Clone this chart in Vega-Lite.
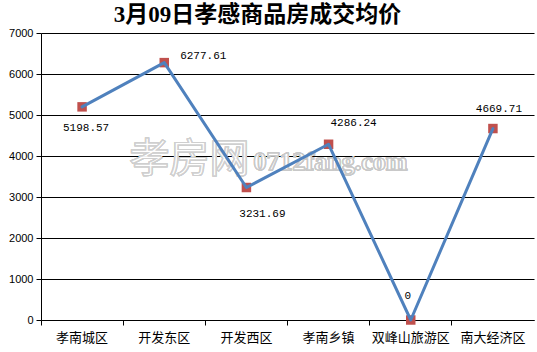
{
  "$schema": "https://vega.github.io/schema/vega-lite/v6.json",
  "width": 493,
  "height": 287,
  "autosize": {"type": "none"},
  "padding": {"left": 41, "top": 33, "right": 3, "bottom": 32},
  "background": "white",
  "title": {
    "text": "3月09日孝感商品房成交均价",
    "font": "Liberation Serif, Noto Sans CJK SC",
    "fontSize": 23,
    "fontWeight": "bold",
    "color": "#000000",
    "anchor": "middle",
    "dx": -30,
    "offset": 0
  },
  "data": {
    "values": [
      {"区域": "孝南城区", "均价": 5198.57},
      {"区域": "开发东区", "均价": 6277.61},
      {"区域": "开发西区", "均价": 3231.69},
      {"区域": "孝南乡镇", "均价": 4286.24},
      {"区域": "双峰山旅游区", "均价": 0},
      {"区域": "南大经济区", "均价": 4669.71}
    ]
  },
  "encoding": {
    "x": {
      "field": "区域",
      "type": "nominal",
      "sort": null,
      "scale": {"type": "band", "paddingInner": 0, "paddingOuter": 0, "domain": ["孝南城区", "开发东区", "开发西区", "孝南乡镇", "双峰山旅游区", "南大经济区"]},
      "axis": {
        "title": null,
        "labelAngle": 0,
        "bandPosition": 0,
        "domainColor": "#000000",
        "tickColor": "#000000",
        "tickSize": 5,
        "labelFont": "Noto Sans CJK SC",
        "labelFontSize": 13,
        "labelColor": "#000000",
        "labelPadding": 6,
        "grid": false
      }
    },
    "y": {
      "field": "均价",
      "type": "quantitative",
      "scale": {"domain": [0, 7000], "nice": false},
      "axis": {
        "title": null,
        "values": [0, 1000, 2000, 3000, 4000, 5000, 6000, 7000],
        "format": "d",
        "domainColor": "#000000",
        "tickColor": "#000000",
        "tickSize": 5,
        "gridColor": "#000000",
        "gridOpacity": 1,
        "labelFont": "Liberation Sans",
        "labelFontSize": 11,
        "labelColor": "#000000",
        "labelPadding": 3
      }
    }
  },
  "layer": [
    {
      "mark": {"type": "text", "text": "孝房网", "font": "Noto Sans CJK SC", "fontSize": 40, "fill": "#ffffff", "fillOpacity": 0.4, "stroke": "#cfcfcf", "strokeWidth": 1, "dx": -57, "baseline": "middle", "align": "center"},
      "encoding": {"x": {"datum": "开发西区"}, "y": {"datum": 3902}}
    },
    {
      "mark": {"type": "text", "text": "0712fang.com", "font": "Liberation Serif", "fontWeight": "bold", "fontSize": 26, "fill": "#ffffff", "fillOpacity": 0.4, "stroke": "#c8c8c8", "strokeWidth": 1, "dx": 84, "baseline": "middle", "align": "center"},
      "encoding": {"x": {"datum": "开发西区"}, "y": {"datum": 3854}}
    },
    {
      "mark": {"type": "point", "shape": "square", "filled": true, "size": 90, "color": "#C0504D", "opacity": 1}
    },
    {
      "mark": {"type": "line", "color": "#4F81BD", "strokeWidth": 3, "strokeCap": "round", "strokeJoin": "round"}
    },
    {
      "transform": [{"filter": "datum['区域'] == '孝南城区'"}],
      "mark": {"type": "text", "font": "Liberation Mono", "fontSize": 11, "color": "#000000", "dx": 4, "dy": 21, "align": "center", "baseline": "middle"},
      "encoding": {"text": {"field": "均价", "type": "nominal"}}
    },
    {
      "transform": [{"filter": "datum['区域'] == '开发东区'"}],
      "mark": {"type": "text", "font": "Liberation Mono", "fontSize": 11, "color": "#000000", "dx": 39, "dy": -7, "align": "center", "baseline": "middle"},
      "encoding": {"text": {"field": "均价", "type": "nominal"}}
    },
    {
      "transform": [{"filter": "datum['区域'] == '开发西区'"}],
      "mark": {"type": "text", "font": "Liberation Mono", "fontSize": 11, "color": "#000000", "dx": 16, "dy": 26, "align": "center", "baseline": "middle"},
      "encoding": {"text": {"field": "均价", "type": "nominal"}}
    },
    {
      "transform": [{"filter": "datum['区域'] == '孝南乡镇'"}],
      "mark": {"type": "text", "font": "Liberation Mono", "fontSize": 11, "color": "#000000", "dx": 25, "dy": -21, "align": "center", "baseline": "middle"},
      "encoding": {"text": {"field": "均价", "type": "nominal"}}
    },
    {
      "transform": [{"filter": "datum['区域'] == '双峰山旅游区'"}],
      "mark": {"type": "text", "font": "Liberation Mono", "fontSize": 11, "color": "#000000", "dx": -3, "dy": -24, "align": "center", "baseline": "middle"},
      "encoding": {"text": {"field": "均价", "type": "nominal"}}
    },
    {
      "transform": [{"filter": "datum['区域'] == '南大经济区'"}],
      "mark": {"type": "text", "font": "Liberation Mono", "fontSize": 11, "color": "#000000", "dx": 6, "dy": -20, "align": "center", "baseline": "middle"},
      "encoding": {"text": {"field": "均价", "type": "nominal"}}
    }
  ],
  "config": {
    "view": {"stroke": null}
  }
}
